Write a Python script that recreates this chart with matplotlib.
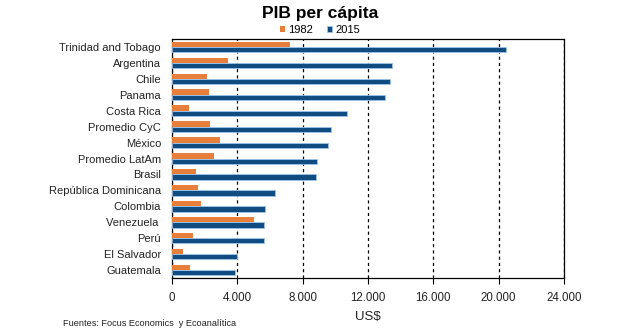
import numpy as np
import matplotlib
matplotlib.use("Agg")
import matplotlib.pyplot as plt

plt.rcParams['font.family'] = ['Liberation Sans', 'DejaVu Sans']

paises = ["Trinidad and Tobago", "Argentina", "Chile", "Panama", "Costa Rica",
          "Promedio CyC", "México", "Promedio LatAm", "Brasil",
          "República Dominicana", "Colombia", "Venezuela ", "Perú",
          "El Salvador", "Guatemala"]
pib_1982 = [7200, 3450, 2150, 2270, 1040, 2330, 2940, 2570, 1470,
            1590, 1780, 5020, 1290, 670, 1100]
pib_2015 = [20450, 13470, 13350, 13040, 10720, 9740, 9550, 8880, 8820,
            6310, 5700, 5630, 5630, 3980, 3860]
xticks = [0, 4000, 8000, 12000, 16000, 20000, 24000]
xtick_labels = ["0", "4.000", "8.000", "12.000", "16.000", "20.000", "24.000"]

naranja = "#E77F3B"
azul = "#0F4C81"

fig = plt.figure(figsize=(6.4, 3.33), dpi=100)
ax = fig.add_axes([0.269, 0.165, 0.612, 0.718])

y = np.arange(len(paises))
h = 0.33
ax.barh(y - h / 2, pib_1982, height=h, color=naranja, label="1982", zorder=3)
ax.barh(y + h / 2, pib_2015, height=h, color=azul, edgecolor="#9DC3E6",
        linewidth=0.6, label="2015", zorder=3)

ax.set_ylim(len(paises) - 0.5, -0.5)
ax.set_yticks(y)
ax.set_yticklabels(paises, fontsize=8, color="#222222")
ax.tick_params(axis="y", length=0, pad=8)

ax.set_xlim(0, 24000)
ax.set_xticks(xticks)
ax.set_xticklabels(xtick_labels, fontsize=8.3, color="#222222")
ax.tick_params(axis="x", length=4, direction="out", pad=6)
ax.xaxis.grid(True, linestyle=(0, (2.5, 2.5)), color="black", linewidth=0.9, zorder=0)
ax.set_xlabel("US$", fontsize=9.5, color="#222222", labelpad=5)

for s in ax.spines.values():
    s.set_color("black")
    s.set_linewidth(0.9)

fig.text(0.5, 0.96, "PIB per cápita", ha="center", va="center",
         fontsize=12.5, fontweight="bold")
fig.legend(loc="center", bbox_to_anchor=(0.5, 0.91), ncol=2, frameon=False,
           fontsize=8, handlelength=0.5, handleheight=0.5,
           handletextpad=0.3, columnspacing=1.2)
fig.text(0.098, 0.03, "Fuentes: Focus Economics  y Ecoanalítica", fontsize=6.6,
         color="#222222", va="center")

fig.savefig("out.png", dpi=100)
